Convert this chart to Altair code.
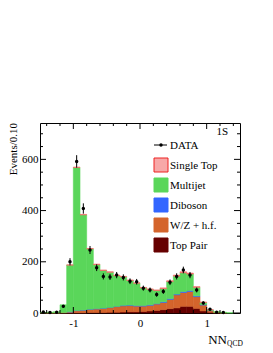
import altair as alt
import pandas as pd

# ---------------- data ----------------
bin_lo = [-1.5, -1.4, -1.3, -1.2, -1.1, -1.0, -0.9, -0.8, -0.7, -0.6,
          -0.5, -0.4, -0.3, -0.2, -0.1, 0.0, 0.1, 0.2, 0.3, 0.4,
          0.5, 0.6, 0.7, 0.8, 0.9, 1.0, 1.1, 1.2, 1.3, 1.4]
bin_hi = [-1.4, -1.3, -1.2, -1.1, -1.0, -0.9, -0.8, -0.7, -0.6, -0.5,
          -0.4, -0.3, -0.2, -0.1, 0.0, 0.1, 0.2, 0.3, 0.4, 0.5,
          0.6, 0.7, 0.8, 0.9, 1.0, 1.1, 1.2, 1.3, 1.4, 1.5]

top_pair = [0, 0, 0, 0, 1, 1, 1, 2, 2, 2, 3, 3, 4, 5, 5, 6, 8, 10, 13, 17,
            20, 26, 26, 18, 8, 3, 1, 0, 0, 0]
wz_hf = [1, 1, 1, 2, 3, 8, 10, 12, 14, 16, 18, 22, 24, 24, 22, 21, 22, 25, 28, 36,
         51, 54, 58, 46, 23, 6, 2, 1, 0, 0]
diboson = [0, 0, 0, 0, 1, 1, 1, 1, 1, 1, 1, 1, 2, 2, 2, 2, 2, 2, 3, 3,
           3, 4, 4, 3, 2, 1, 0, 0, 0, 0]
multijet = [1, 2, 4, 30, 182, 558, 371, 235, 172, 147, 137, 120, 111, 96, 87, 69, 60, 51, 51, 67,
            70, 73, 64, 33, 8, 2, 2, 2, 1, 0]
single_top = [0, 0, 0, 0, 1, 2, 2, 2, 2, 2, 2, 2, 2, 2, 2, 2, 2, 2, 3, 3,
              4, 4, 4, 3, 2, 1, 0, 0, 0, 0]

data_vals = [4, 2, 3, 26, 200, 592, 408, 246, 177, 143, 141, 148, 139, 124, 122, 97, 90, 72, 84, 120,
             143, 168, 148, 90, 39, 15, 3, 2, 0, 0]
data_err = [2.0, 1.4, 1.7, 5.1, 14.1, 24.3, 20.2, 15.7, 13.3, 12.0, 11.9, 12.2, 11.8, 11.1, 11.0,
            9.8, 9.5, 8.5, 9.2, 11.0, 12.0, 13.0, 12.2, 9.5, 6.2, 3.9, 1.7, 1.4, 0.0, 0.0]

components = ["Top Pair", "W/Z + h.f.", "Diboson", "Multijet", "Single Top"]
comp_values = [top_pair, wz_hf, diboson, multijet, single_top]
comp_colors = ["#660000", "#d4642c", "#3366ff", "#5ad65a", "#f56a6a"]

x_major = [-1, 0, 1]
x_minor = [-1.4, -1.2, -0.8, -0.6, -0.4, -0.2, 0.2, 0.4, 0.6, 0.8, 1.2, 1.4]
y_major = [0, 200, 400, 600]
y_minor = [50, 100, 150, 250, 300, 350, 450, 500, 550, 650, 700]

legend_labels = ["DATA", "Single Top", "Multijet", "Diboson", "W/Z + h.f.", "Top Pair"]
legend_colors = [None, "#f7a8a8", "#5ad65a", "#3366ff", "#d4642c", "#660000"]

# ---------------- layout ----------------
W, H = 200, 190
FONT = "Liberation Serif"
xs = alt.Scale(domain=[-1.5, 1.5], nice=False, zero=False)
ys = alt.Scale(domain=[0, 742], nice=False, zero=False)
xaxis = alt.Axis(values=x_major, labelExpr="datum.value", title=None,
                 ticks=False, domain=False, grid=False, labelPadding=4)
yaxis = alt.Axis(values=y_major, title=None, ticks=False, domain=False,
                 grid=False, labelPadding=2)

rows = []
for k, (name, vals) in enumerate(zip(components, comp_values)):
    for lo, hi, v in zip(bin_lo, bin_hi, vals):
        rows.append({"lo": lo, "hi": hi, "v": v, "comp": name, "ord": k})
stack_df = pd.DataFrame(rows)

cscale = alt.Scale(domain=components, range=comp_colors)
bars = alt.Chart(stack_df).transform_stack(
    stack="v", as_=["y0", "y1"], groupby=["lo"], sort=[alt.SortField("ord", order="ascending")]
).transform_filter("datum.v > 0").mark_rect(strokeWidth=0.6, opacity=1).encode(
    x=alt.X("lo:Q", scale=xs, axis=xaxis),
    x2="hi:Q",
    y=alt.Y("y0:Q", scale=ys, axis=yaxis),
    y2="y1:Q",
    color=alt.Color("comp:N", scale=cscale, legend=None),
    stroke=alt.Stroke("comp:N", scale=cscale, legend=None),
)

pts_df = pd.DataFrame({"x": [(a + b) / 2 for a, b in zip(bin_lo, bin_hi)],
                       "y": data_vals, "e": data_err})
pts_df = pts_df[pts_df["y"] > 0]
pts_df["ylo"] = pts_df["y"] - pts_df["e"]
pts_df["yhi"] = pts_df["y"] + pts_df["e"]

err = alt.Chart(pts_df).mark_rule(color="black", strokeWidth=1).encode(
    x=alt.X("x:Q", scale=xs, axis=xaxis),
    y=alt.Y("ylo:Q", scale=ys, axis=yaxis),
    y2="yhi:Q",
)
pts = alt.Chart(pts_df).mark_circle(color="black", size=12, opacity=1).encode(
    x=alt.X("x:Q", scale=xs, axis=xaxis),
    y=alt.Y("y:Q", scale=ys, axis=yaxis),
)

layers = [bars, err, pts]

# inward ticks on all four sides
def yticks(vals, length):
    d = pd.DataFrame({"v": vals})
    left = alt.Chart(d).mark_rule(color="black", strokeWidth=1).encode(
        y=alt.Y("v:Q", scale=ys, axis=yaxis), x=alt.value(0), x2=alt.value(length))
    right = alt.Chart(d).mark_rule(color="black", strokeWidth=1).encode(
        y=alt.Y("v:Q", scale=ys, axis=yaxis), x=alt.value(W), x2=alt.value(W - length))
    return [left, right]

def xticks(vals, length):
    d = pd.DataFrame({"v": vals})
    bottom = alt.Chart(d).mark_rule(color="black", strokeWidth=1).encode(
        x=alt.X("v:Q", scale=xs, axis=xaxis), y=alt.value(H), y2=alt.value(H - length))
    top = alt.Chart(d).mark_rule(color="black", strokeWidth=1).encode(
        x=alt.X("v:Q", scale=xs, axis=xaxis), y=alt.value(0), y2=alt.value(length))
    return [bottom, top]

layers += yticks(y_major, 6) + yticks(y_minor, 3) + xticks(x_major, 6) + xticks(x_minor, 3)

# legend
one = pd.DataFrame({"a": [0]})
LX, LY0, LDY = 121, 22, 20
for i, (lab, col) in enumerate(zip(legend_labels, legend_colors)):
    yy = LY0 + i * LDY
    if col is None:
        layers.append(alt.Chart(one).mark_rule(color="black", strokeWidth=1).encode(
            x=alt.value(LX - 7), x2=alt.value(LX + 6), y=alt.value(yy)))
        layers.append(alt.Chart(one).mark_circle(color="black", size=12, opacity=1).encode(
            x=alt.value(LX), y=alt.value(yy)))
    else:
        stroke = "#ee2222" if lab == "Single Top" else col
        layers.append(alt.Chart(one).mark_square(size=196, fill=col, stroke=stroke,
                                                 strokeWidth=1, opacity=1).encode(
            x=alt.value(LX), y=alt.value(yy)))
    layers.append(alt.Chart(one).mark_text(text=lab, font=FONT, fontSize=11, align="left",
                                           baseline="middle", color="black").encode(
        x=alt.value(LX + 9), y=alt.value(yy + 1)))

# texts
layers.append(alt.Chart(one).mark_text(text="1S", font=FONT, fontSize=11, align="right",
                                       baseline="alphabetic", color="black").encode(
    x=alt.value(188), y=alt.value(12)))
layers.append(alt.Chart(one).mark_text(text="Events/0.10", font=FONT, fontSize=11, angle=270,
                                       align="right", baseline="middle", color="black").encode(
    x=alt.value(-26), y=alt.value(0)))
layers.append(alt.Chart(one).mark_text(text="NN", font=FONT, fontSize=13, align="right",
                                       baseline="alphabetic", color="black").encode(
    x=alt.value(187), y=alt.value(221)))
layers.append(alt.Chart(one).mark_text(text="QCD", font=FONT, fontSize=7.5, align="left",
                                       baseline="alphabetic", color="black").encode(
    x=alt.value(187), y=alt.value(223)))

chart = alt.layer(*layers).properties(
    width=W, height=H,
    autosize=alt.AutoSizeParams(type="none"),
    padding={"left": 32, "top": 115, "right": 25, "bottom": 35},
).configure_view(stroke="black", strokeWidth=1).configure_axis(
    labelFont=FONT, labelFontSize=11, labelColor="black"
)

chart.save("out.html", embed_options={"renderer": "svg", "actions": False})
